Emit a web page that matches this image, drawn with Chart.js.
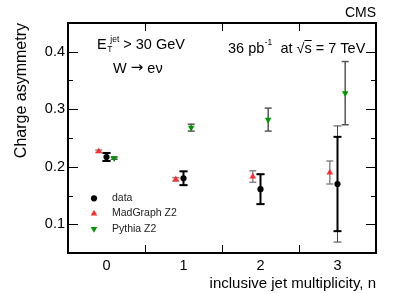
<!DOCTYPE html>
<html><head><meta charset="utf-8">
<script src="https://cdn.jsdelivr.net/npm/chart.js@4/dist/chart.umd.min.js"></script>
<style>html,body{margin:0;padding:0;background:#fff;}canvas{display:block;}</style>
</head><body>
<canvas id="c" width="399" height="293"></canvas>
<script>
const categories = [0, 1, 2, 3];
const dataValues = [0.217, 0.180, 0.161, 0.170];
const dataStatErr = [0.007, 0.012, 0.026, 0.082];
const dataTotErr = [0.007, 0.012, 0.026, 0.101];
const madgraphValues = [0.227, 0.178, 0.183, 0.190];
const madgraphErr = [0.002, 0.003, 0.010, 0.020];
const pythiaValues = [0.215, 0.268, 0.282, 0.328];
const pythiaErr = [0.002, 0.006, 0.020, 0.055];
const yTickLabels = [0.1, 0.2, 0.3, 0.4];
const xTickLabels = [0, 1, 2, 3];
const seriesLabels = ['data', 'MadGraph Z2', 'Pythia Z2'];

const FONT = '"Liberation Sans", Arial, Helvetica, sans-serif';
const RED = 'rgb(255,45,45)';
const GREEN = 'rgb(0,150,0)';

function pts(vals, off) { return categories.map((c, i) => ({x: c + off, y: vals[i]})); }

const datasets = [
  {label: seriesLabels[0], data: pts(dataValues, 0), pointStyle: 'circle', pointRadius: 3.1, pointRotation: 0,
   backgroundColor: '#000', borderColor: '#000', borderWidth: 0, showLine: false,
   errBars: [{err: dataTotErr, color: '#444', width: 1, cap: 4}, {err: dataStatErr, color: '#000', width: 2, cap: 4}]},
  {label: seriesLabels[1], data: pts(madgraphValues, -0.1), pointStyle: 'triangle', pointRadius: 3.8, pointRotation: 0,
   backgroundColor: RED, borderColor: RED, borderWidth: 0, showLine: false,
   errBars: [{err: madgraphErr, color: '#888', width: 1.5, cap: 3.5}]},
  {label: seriesLabels[2], data: pts(pythiaValues, 0.1), pointStyle: 'triangle', pointRadius: 3.8, pointRotation: 180,
   backgroundColor: GREEN, borderColor: GREEN, borderWidth: 0, showLine: false,
   errBars: [{err: pythiaErr, color: '#555', width: 1.5, cap: 3.5}]}
];

function line(ctx, x1, y1, x2, y2) { ctx.beginPath(); ctx.moveTo(x1, y1); ctx.lineTo(x2, y2); ctx.stroke(); }
function txt(ctx, s, x, y, size, align, base, fam) {
  ctx.font = size + 'px ' + (fam || FONT); ctx.textAlign = align || 'left'; ctx.textBaseline = base || 'middle';
  ctx.fillText(s, x, y); return ctx.measureText(s).width;
}

const cmsPlugin = {
  id: 'cms',
  beforeDatasetsDraw(chart) {
    const {ctx, chartArea: a, scales: {x, y}} = chart;
    ctx.save();
    ctx.strokeStyle = '#000'; ctx.lineWidth = 1;
    for (let k = 1; k <= 9; k++) {
      const v = k * 0.05;
      const py = Math.round(y.getPixelForValue(v)) + 0.5;
      const L = (k % 2 === 0) ? 10 : 5;
      line(ctx, a.left, py, a.left + L, py);
      line(ctx, a.right, py, a.right - L, py);
    }
    for (let i = 0; i < xTickLabels.length - 1; i++) {
      const v = (xTickLabels[i] + xTickLabels[i + 1]) / 2;
      const px = Math.round(x.getPixelForValue(v)) + 0.5;
      line(ctx, px, a.bottom, px, a.bottom - 8);
      line(ctx, px, a.top, px, a.top + 8);
    }
    chart.data.datasets.forEach(ds => {
      ds.errBars.forEach(eb => {
        ctx.strokeStyle = eb.color; ctx.lineWidth = eb.width;
        ds.data.forEach((p, i) => {
          const px = x.getPixelForValue(p.x);
          const hi = y.getPixelForValue(p.y + eb.err[i]);
          const lo = y.getPixelForValue(p.y - eb.err[i]);
          line(ctx, px, hi, px, lo);
          line(ctx, px - eb.cap, hi, px + eb.cap, hi);
          line(ctx, px - eb.cap, lo, px + eb.cap, lo);
        });
      });
    });
    ctx.restore();
  },
  afterDraw(chart) {
    const {ctx, chartArea: a} = chart;
    ctx.save();
    ctx.strokeStyle = '#000'; ctx.lineWidth = 2;
    ctx.strokeRect(a.left, a.top, a.right - a.left, a.bottom - a.top);
    ctx.fillStyle = '#000';
    txt(ctx, 'CMS', a.right, 13.5, 14, 'right');
    // E_T^jet > 30 GeV
    let xx = 97;
    xx += txt(ctx, 'E', xx, 45, 14.5);
    const wT = txt(ctx, 'T', xx + 0.5, 49.5, 8.5);
    const wj = txt(ctx, 'jet', xx + wT * 0.7, 40, 8.5);
    xx += wT * 0.7 + wj;
    txt(ctx, ' > 30 GeV', xx, 45, 14.5);
    // W -> e nu
    xx = 113;
    xx += txt(ctx, 'W ', xx, 68.5, 14.5);
    xx += txt(ctx, '\u2192', xx, 68.5, 15, 'left', 'middle', '"DejaVu Sans", sans-serif');
    txt(ctx, ' e\u03BD', xx, 68.5, 14.5);
    // 36 pb^-1 at sqrt(s) = 7 TeV
    xx = 228;
    xx += txt(ctx, '36 pb', xx, 48.5, 14.5);
    xx += txt(ctx, '-1', xx + 0.5, 43, 8.5) + 0.5;
    xx += txt(ctx, '  at ', xx, 48.5, 14.5);
    xx += txt(ctx, '\u221A', xx, 48.5, 14.5);
    const ws = txt(ctx, 's', xx, 48.5, 14.5);
    ctx.lineWidth = 1; line(ctx, xx, 40.5, xx + ws, 40.5);
    xx += ws;
    txt(ctx, ' = 7 TeV', xx, 48.5, 14.5);
    // legend
    const ly = [198.3, 213.5, 229];
    chart.data.datasets.forEach((ds, i) => {
      ctx.fillStyle = ds.backgroundColor; ctx.strokeStyle = ds.backgroundColor;
      Chart.helpers.drawPoint(ctx, {pointStyle: ds.pointStyle, radius: ds.pointRadius, rotation: ds.pointRotation, borderWidth: 0}, 94, ly[i]);
      ctx.fillStyle = '#222';
      txt(ctx, ds.label, 112, ly[i], 10.5);
    });
    ctx.restore();
  }
};

new Chart(document.getElementById('c'), {
  type: 'scatter',
  data: {datasets},
  options: {
    responsive: false, animation: false, devicePixelRatio: 1,
    layout: {padding: {left: 0, right: 23, top: 23, bottom: 0}},
    plugins: {legend: {display: false}, tooltip: {enabled: false}},
    elements: {point: {hoverRadius: 0}},
    scales: {
      x: {
        type: 'linear', min: -0.5, max: 3.5,
        afterBuildTicks: s => { s.ticks = xTickLabels.map(v => ({value: v})); },
        afterFit: s => { s.height = 40; },
        grid: {display: false, drawTicks: false}, border: {display: false},
        ticks: {autoSkip: false, maxRotation: 0, padding: 4, color: '#000', font: {family: FONT, size: 14.5}, callback: v => String(v)},
        title: {display: true, text: 'inclusive jet multiplicity, n', align: 'end', color: '#000', font: {family: FONT, size: 15}, padding: {top: 0, bottom: 0}}
      },
      y: {
        type: 'linear', min: 0.05, max: 0.45,
        afterBuildTicks: s => { s.ticks = yTickLabels.map(v => ({value: v})); },
        afterFit: s => { s.width = 68; },
        grid: {display: false, drawTicks: false}, border: {display: false},
        ticks: {autoSkip: false, padding: 3, color: '#000', font: {family: FONT, size: 14.5}, callback: v => v.toFixed(1)},
        title: {display: true, text: 'Charge asymmetry', align: 'end', color: '#000', font: {family: FONT, size: 16}, padding: {top: 12, bottom: 0}}
      }
    }
  },
  plugins: [cmsPlugin]
});
</script>
</body></html>
